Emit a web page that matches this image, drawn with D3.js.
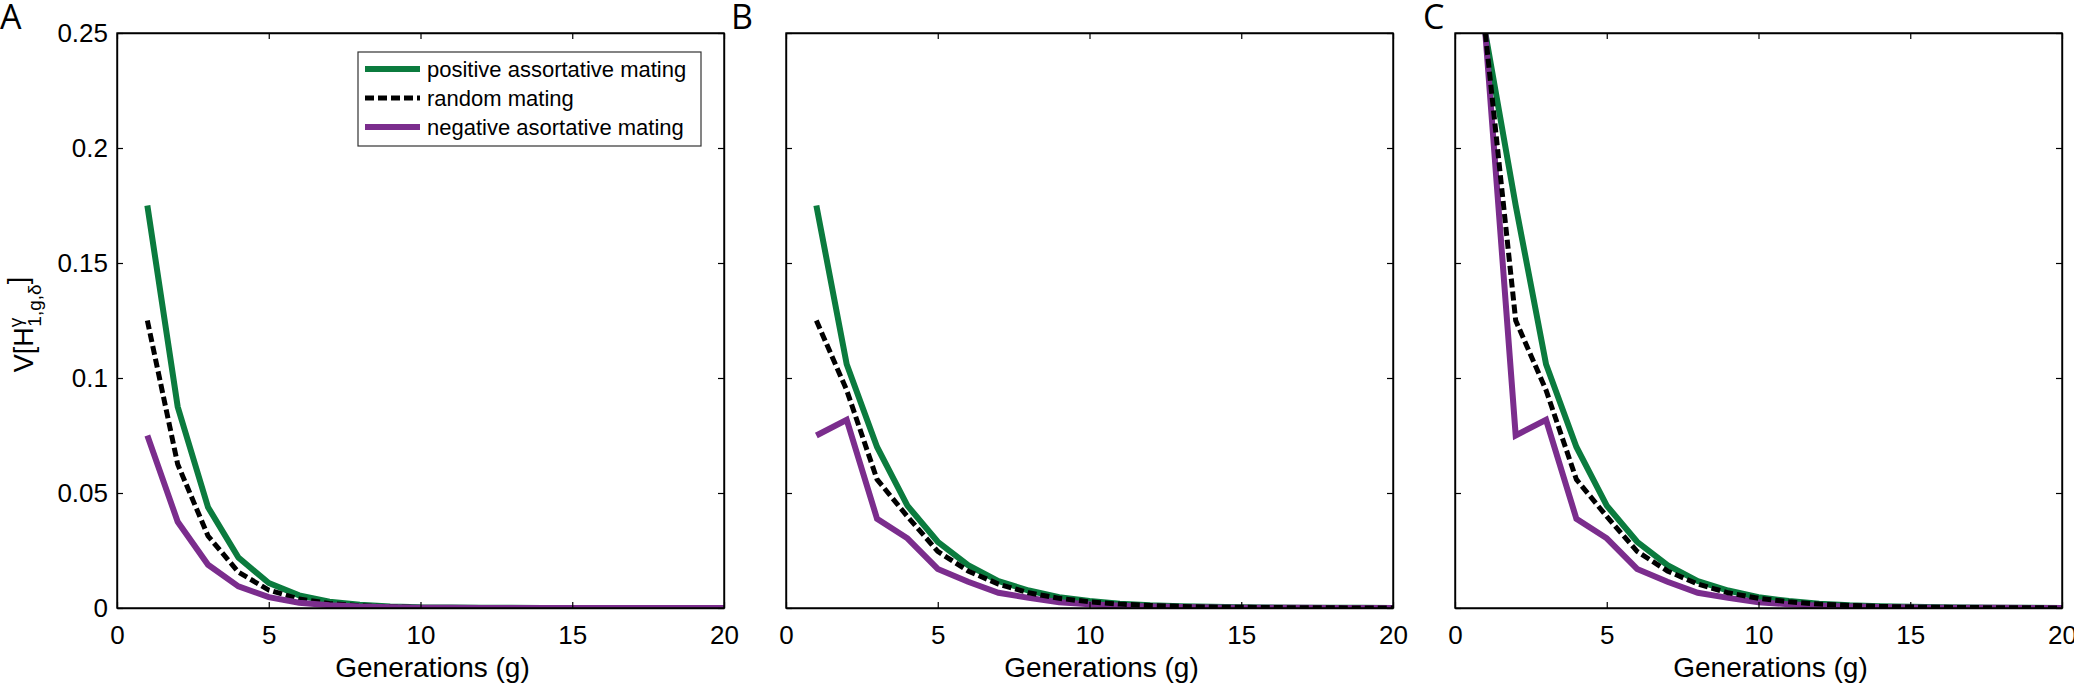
<!DOCTYPE html>
<html><head><meta charset="utf-8">
<script src="https://cdn.jsdelivr.net/npm/d3@7"></script>
<style>body{margin:0;background:#fff;} svg{display:block;}</style>
</head><body>
<script>
// ---- data ----
const generations = d3.range(1, 21);
const xTicks = [0, 5, 10, 15, 20];
const yTicks = [0, 0.05, 0.1, 0.15, 0.2, 0.25];
const yTickLabels = ["0", "0.05", "0.1", "0.15", "0.2", "0.25"];
const panelLetters = ["A", "B", "C"];
const seriesNames = ["positive assortative mating", "random mating", "negative asortative mating"];

const A_positive = [0.175, 0.0875, 0.0438, 0.0219, 0.0109, 0.0055, 0.0027, 0.0014, 0.0007, 0.0003, 0.0002, 0.0001, 0.0001, 0, 0, 0, 0, 0, 0, 0];
const A_random   = [0.125, 0.0625, 0.0313, 0.0156, 0.0078, 0.0039, 0.0020, 0.0010, 0.0005, 0.0002, 0.0001, 0.0001, 0, 0, 0, 0, 0, 0, 0, 0];
const A_negative = [0.075, 0.0375, 0.0188, 0.0094, 0.0047, 0.0023, 0.0012, 0.0006, 0.0003, 0.0001, 0.0001, 0, 0, 0, 0, 0, 0, 0, 0, 0];

const B_positive = [0.175, 0.106, 0.070, 0.0445, 0.0288, 0.0186, 0.0117, 0.0076, 0.0047, 0.0030, 0.0019, 0.0012, 0.0008, 0.0005, 0.0003, 0.0002, 0.0001, 0.0001, 0.0001, 0];
const B_random   = [0.125, 0.0947, 0.0559, 0.0398, 0.0246, 0.0161, 0.0104, 0.0066, 0.0042, 0.0027, 0.0017, 0.0011, 0.0007, 0.0004, 0.0003, 0.0002, 0.0001, 0.0001, 0, 0];
const B_negative = [0.075, 0.0818, 0.0388, 0.0303, 0.0170, 0.0114, 0.0066, 0.0044, 0.0025, 0.0016, 0.0010, 0.0006, 0.0004, 0.0002, 0.0001, 0.0001, 0.0001, 0, 0, 0];

const C_positive = [0.25, 0.175, 0.106, 0.070, 0.0445, 0.0288, 0.0186, 0.0117, 0.0076, 0.0047, 0.0030, 0.0019, 0.0012, 0.0008, 0.0005, 0.0003, 0.0002, 0.0001, 0.0001, 0];
const C_random   = [0.25, 0.125, 0.0947, 0.0559, 0.0398, 0.0246, 0.0161, 0.0104, 0.0066, 0.0042, 0.0027, 0.0017, 0.0011, 0.0007, 0.0004, 0.0003, 0.0002, 0.0001, 0.0001, 0];
const C_negative = [0.25, 0.075, 0.0818, 0.0388, 0.0303, 0.0170, 0.0114, 0.0066, 0.0044, 0.0025, 0.0016, 0.0010, 0.0006, 0.0004, 0.0002, 0.0001, 0.0001, 0.0001, 0, 0];

// ---- styles ----
const colors = {positive: "#0b7b3e", random: "#000000", negative: "#7b2d8d"};
const W = 2074, H = 684;
const panelLeft = [117, 786, 1455];
const panelW = 607;
const plotTop = 33, plotBottom = 608;
const font = "'Liberation Sans', Arial, Helvetica, sans-serif";

const panels = [
  {letter: panelLetters[0], pos: A_positive, rnd: A_random, neg: A_negative, order: ["positive", "random", "negative"], legend: true, yLabels: true},
  {letter: panelLetters[1], pos: B_positive, rnd: B_random, neg: B_negative, order: ["positive", "negative", "random"], legend: false, yLabels: false},
  {letter: panelLetters[2], pos: C_positive, rnd: C_random, neg: C_negative, order: ["positive", "negative", "random"], legend: false, yLabels: false}
];

const svg = d3.select("body").append("svg").attr("width", W).attr("height", H);

panels.forEach((p, i) => {
  const x0 = panelLeft[i];
  const x = d3.scaleLinear().domain([0, 20]).range([x0, x0 + panelW]);
  const y = d3.scaleLinear().domain([0, 0.25]).range([plotBottom, plotTop]);
  const g = svg.append("g");

  const clipId = "clip" + i;
  svg.append("clipPath").attr("id", clipId).append("rect")
    .attr("x", x0).attr("y", plotTop).attr("width", panelW).attr("height", plotBottom - plotTop);

  const line = d3.line().x((d, k) => x(generations[k])).y(d => y(d));
  const dataMap = {positive: p.pos, random: p.rnd, negative: p.neg};

  const lg = g.append("g").attr("clip-path", `url(#${clipId})`);
  p.order.forEach(key => {
    lg.append("path")
      .datum(dataMap[key])
      .attr("d", line)
      .attr("fill", "none")
      .attr("stroke", colors[key])
      .attr("stroke-width", key === "random" ? 5 : 6)
      .attr("stroke-dasharray", key === "random" ? "9,4" : null)
      .attr("stroke-linejoin", "miter")
      .attr("stroke-linecap", "butt");
  });

  const tickLen = 6;
  const xAxisB = d3.axisBottom(x).tickValues(xTicks).tickSizeInner(-tickLen).tickSizeOuter(0).tickPadding(18).tickFormat(d3.format("d"));
  const xAxisT = d3.axisTop(x).tickValues(xTicks).tickSizeInner(-tickLen).tickSizeOuter(0).tickFormat("");
  const yAxisL = d3.axisLeft(y).tickValues(yTicks).tickSizeInner(-tickLen).tickSizeOuter(0).tickPadding(9)
      .tickFormat((d, k) => p.yLabels ? yTickLabels[k] : "");
  const yAxisR = d3.axisRight(y).tickValues(yTicks).tickSizeInner(-tickLen).tickSizeOuter(0).tickFormat("");

  const axes = [
    g.append("g").attr("transform", `translate(0,${plotBottom})`).call(xAxisB),
    g.append("g").attr("transform", `translate(0,${plotTop})`).call(xAxisT),
    g.append("g").attr("transform", `translate(${x0},0)`).call(yAxisL),
    g.append("g").attr("transform", `translate(${x0 + panelW},0)`).call(yAxisR)
  ];
  axes.forEach(a => {
    a.select(".domain").attr("stroke", "#000").attr("stroke-width", 1.4);
    a.selectAll(".tick line").attr("stroke", "#000").attr("stroke-width", 1.2);
    a.selectAll("text").attr("font-family", font).attr("font-size", 26).attr("fill", "#000");
  });
  g.append("rect").attr("x", x0).attr("y", plotTop).attr("width", panelW).attr("height", plotBottom - plotTop)
    .attr("fill", "none").attr("stroke", "#000").attr("stroke-width", 1.4);

  g.append("text").attr("x", x(10) + 12).attr("y", 677).attr("text-anchor", "middle")
    .attr("font-family", font).attr("font-size", 28).text("Generations (g)");

  const letterX = [0, 731, 1423][i];
  g.append("text").attr("x", letterX).attr("y", 29)
    .attr("font-family", "'Open Sans', 'Noto Sans', sans-serif").attr("font-size", 34).text(p.letter);

  if (p.legend) {
    const lx = 358, ly = 52, lw = 343, lh = 94;
    const leg = g.append("g");
    leg.append("rect").attr("x", lx).attr("y", ly).attr("width", lw).attr("height", lh)
      .attr("fill", "#fff").attr("stroke", "#333").attr("stroke-width", 1.2);
    const keys = ["positive", "random", "negative"];
    keys.forEach((key, k) => {
      const ry = ly + 17 + k * 29;
      leg.append("line").attr("x1", lx + 7).attr("x2", lx + 62).attr("y1", ry).attr("y2", ry)
        .attr("stroke", colors[key]).attr("stroke-width", key === "random" ? 5 : 6)
        .attr("stroke-dasharray", key === "random" ? "9,4" : null);
      leg.append("text").attr("x", lx + 69).attr("y", ry + 8)
        .attr("font-family", font).attr("font-size", 22).text(seriesNames[k]);
    });
  }
});

const yl = svg.append("text")
  .attr("transform", `translate(33,${(plotTop + plotBottom) / 2 + 4}) rotate(-90)`)
  .attr("text-anchor", "middle")
  .attr("font-family", font).attr("font-size", 27);
yl.append("tspan").text("V[H");
yl.append("tspan").attr("font-size", 19).attr("dy", -11).text("γ");
yl.append("tspan").attr("font-size", 19).attr("dx", -9).attr("dy", 19).text("1,g,δ");
yl.append("tspan").attr("dy", -14).text("]");
</script>
</body></html>
